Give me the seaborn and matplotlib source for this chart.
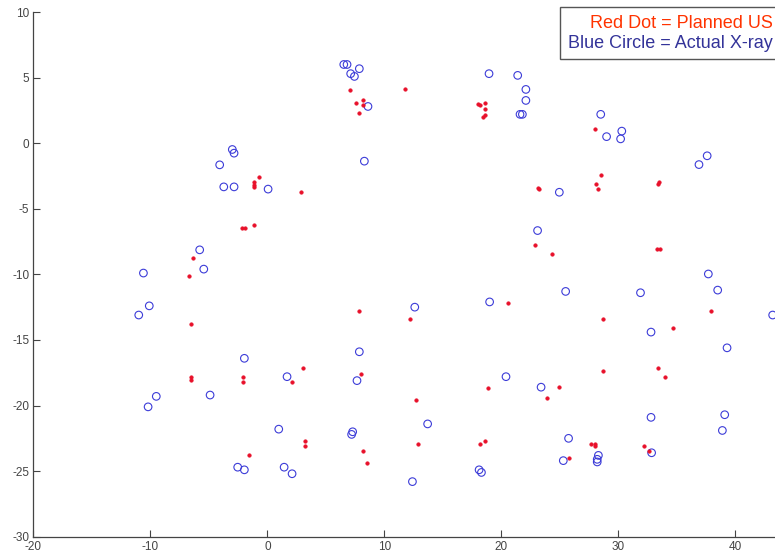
import numpy as np
import pandas as pd
import matplotlib as mpl
mpl.use("Agg")
import matplotlib.pyplot as plt
import seaborn as sns
from matplotlib.patches import Rectangle

# -----------------------------------------
# data
# -----------------------------------------
xray_x = [-3.0, -2.85, -4.08, -3.73, -2.85, -5.79, -5.44, -10.6, 0.06,
          6.53, 6.81, 7.12, 7.44, 7.86, 8.6, 8.29, 18.95, 21.4, 21.6, 21.8,
          22.1, 22.1, 28.5, 29.0, 30.3, 30.2, 36.9, 37.6, 24.96, 23.1, 37.7,
          -10.1, -11.0, -1.97, -9.5, -10.2, -4.9, -2.54, -1.97,
          12.6, 19.0, 7.86, 1.68, 7.66, 20.4, 13.7, 0.97, 7.29, 7.2, 1.43,
          2.11, 12.4, 18.1, 18.3,
          25.5, 31.9, 38.5, 43.2, 32.8, 39.3, 23.4, 32.8, 39.1, 38.9, 25.75,
          32.85, 28.3, 28.2, 28.2, 25.3]
xray_y = [-0.48, -0.76, -1.65, -3.33, -3.33, -8.13, -9.6, -9.9, -3.5,
          6.0, 6.0, 5.3, 5.09, 5.68, 2.8, -1.37, 5.3, 5.17, 2.2, 2.2,
          4.1, 3.26, 2.2, 0.5, 0.92, 0.33, -1.63, -0.96, -3.74, -6.66, -9.97,
          -12.4, -13.1, -16.4, -19.3, -20.1, -19.2, -24.7, -24.9,
          -12.5, -12.1, -15.9, -17.8, -18.1, -17.8, -21.4, -21.8, -22.0, -22.2,
          -24.7, -25.2, -25.8, -24.9, -25.1,
          -11.3, -11.4, -11.2, -13.1, -14.4, -15.6, -18.6, -20.9, -20.7, -21.9,
          -22.5, -23.6, -23.8, -24.1, -24.3, -24.2]

us_x = [-6.38, -6.72, -2.2, -1.9, -1.14, -1.11, -1.11, -1.11, -0.68,
        2.85, 7.07, 7.6, 8.15, 8.15, 7.8, 11.8, 17.97, 18.2, 18.6, 18.6,
        18.6, 18.4,
        28.0, 28.5, 28.1, 28.3, 23.1, 23.25, 33.45, 33.4, 22.9, 24.3, 33.3,
        33.6,
        -6.52, -6.52, -6.52, -2.11, -2.11, -1.56,
        7.8, 12.2, 20.6, 3.05, 2.11, 8.0, 18.9, 12.7, 3.2, 3.2, 12.9, 8.15,
        8.5, 18.2, 18.6,
        28.7, 34.7, 37.9, 28.7, 33.4, 34.0, 24.96, 23.9, 27.7, 28.0, 28.0,
        32.2, 32.6, 25.8]
us_y = [-8.78, -10.1, -6.43, -6.43, -6.26, -2.98, -3.15, -3.35, -2.6,
        -3.69, 4.05, 3.08, 3.3, 2.93, 2.34, 4.1, 2.98, 2.9, 3.08, 2.57,
        2.16, 2.0,
        1.12, -2.39, -3.1, -3.5, -3.4, -3.5, -2.97, -3.1, -7.73, -8.47, -8.06,
        -8.06,
        -13.8, -17.8, -18.06, -17.8, -18.2, -23.8,
        -12.8, -13.4, -12.2, -17.1, -18.2, -17.6, -18.7, -19.6, -22.7, -23.1,
        -22.9, -23.5, -24.4, -22.9, -22.7,
        -13.4, -14.1, -12.8, -17.4, -17.1, -17.8, -18.6, -19.4, -22.9, -22.9,
        -23.1, -23.1, -23.5, -24.0]

x_ticks = [-20, -10, 0, 10, 20, 30, 40]
y_ticks = [-30, -25, -20, -15, -10, -5, 0, 5, 10]

df_xray = pd.DataFrame({"x": xray_x, "y": xray_y})
df_us = pd.DataFrame({"x": us_x, "y": us_y})

# -----------------------------------------
# plotting
# -----------------------------------------
sns.set_style("ticks")
plt.rcParams['font.family'] = ['Liberation Sans', 'DejaVu Sans']
plt.rcParams['axes.unicode_minus'] = False

fig = plt.figure(figsize=(7.75, 5.54), dpi=100)
ax = fig.add_axes([0.0432, 0.0312, 0.9568, 0.9471])

sns.scatterplot(data=df_xray, x="x", y="y", ax=ax, marker="o", s=30,
                facecolors="none", edgecolor="#3c3cd8", linewidth=0.8)
sns.scatterplot(data=df_us, x="x", y="y", ax=ax, marker="o", s=7,
                color="#e8102a", edgecolor="#e8102a", linewidth=0.3)

ax.set_xlim(-20, 43.4)
ax.set_ylim(-30, 10)
ax.set_xticks(x_ticks)
ax.set_yticks(y_ticks)
ax.set_xlabel("")
ax.set_ylabel("")
ax.tick_params(direction="in", length=5, width=0.8, colors="#444444",
               labelsize=8.5, pad=3)
for side in ["left", "bottom"]:
    ax.spines[side].set_color("#444444")
    ax.spines[side].set_linewidth(0.9)
sns.despine(ax=ax)

# legend-like text box in the upper right
fig.patches.append(Rectangle((560 / 775, 1 - 59 / 554), 0.5, 52 / 554,
                             transform=fig.transFigure, facecolor="white",
                             edgecolor="#555555", linewidth=1.0, zorder=5))
fig.text(773 / 775, 1 - 23 / 554, "Red Dot = Planned US", color="#ff3300",
         fontsize=13, ha="right", va="center", zorder=6)
fig.text(773 / 775, 1 - 44 / 554, "Blue Circle = Actual X-ray",
         color="#333399", fontsize=13, ha="right", va="center", zorder=6)

fig.savefig("out.png", dpi=100)
